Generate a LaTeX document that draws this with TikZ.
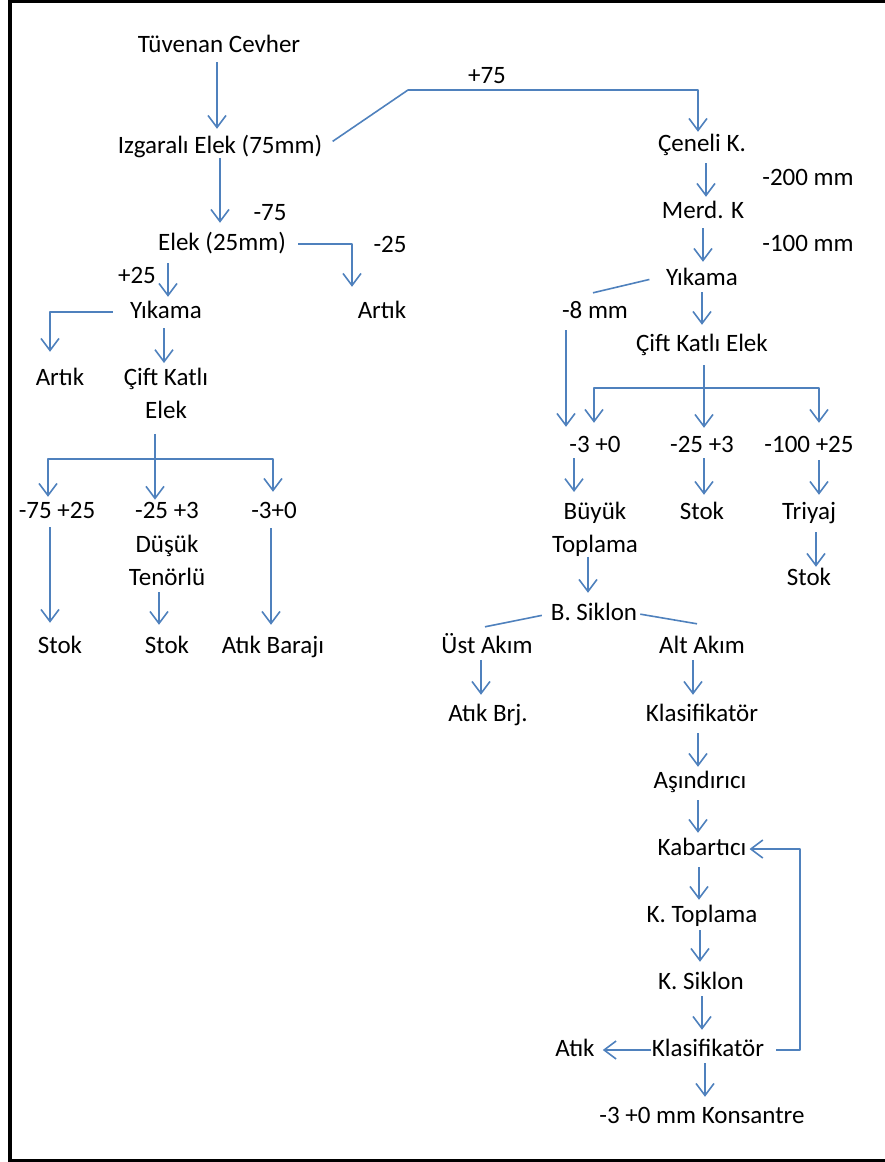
\documentclass[tikz,border=0pt]{standalone}
\usepackage{fontspec}
\setmainfont{Carlito}
\usetikzlibrary{arrows.meta}
\definecolor{flowblue}{RGB}{79,129,189}
\begin{document}
\begin{tikzpicture}[x=1pt,y=-1pt,
  every node/.style={font=\fontsize{25}{33.5}\selectfont, text=black},
  lbl/.style={inner xsep=2pt, inner ysep=0pt, text height=17pt, text depth=5pt, anchor=base},
  multi/.style={inner xsep=2pt, inner ysep=0pt, align=center, anchor=north},
  flow/.style={draw=flowblue, line width=1.6pt, line join=round},
  arr/.style={flow, -{Straight Barb[length=12pt,width=18pt]}},
  g/.style 2 args={shorten <=#1pt, shorten >=#2pt}]
\useasboundingbox (0,0) rectangle (885,1162);

% page frame
\draw[line width=4pt] (10,0) -- (10,1162);
\draw[line width=3pt] (8,1.5) -- (885,1.5);
\draw[line width=3pt] (8,1160.5) -- (885,1160.5);

% ---------- left branch ----------
\node[lbl] (n1) at (219,52) {Tüvenan Cevher};
\node[lbl] (n2) at (220,153) {Izgaralı Elek (75mm)};
\node[lbl] (l75) at (270,220) {-75};
\node[lbl] (n3) at (222,250) {Elek (25mm)};
\node[lbl] (l25m) at (390,252) {-25};
\node[lbl] (artR) at (382,318) {Artık};
\node[lbl] (l25p) at (137,283) {+25};
\node[lbl] (yikL) at (166,318) {Yıkama};
\node[lbl] (artL) at (60,385) {Artık};
\node[multi] (ciftL) at (166,367.5) {Çift Katlı\\Elek};
\node[lbl] (m75) at (57,518) {-75 +25};
\node[multi] (m25L) at (167,502.2) {-25 +3\\Düşük\\Tenörlü};
\node[lbl] (m3L) at (274,518) {-3+0};
\node[lbl] (stokL1) at (60,653) {Stok};
\node[lbl] (stokL2) at (167,653) {Stok};
\node[lbl] (atikbar) at (273,653) {Atık Barajı};

% ---------- right branch ----------
\node[lbl] (l75p) at (487,83) {+75};
\node[lbl] (cen) at (702,151) {Çeneli K.};
\node[lbl] (l200) at (808,185) {-200 mm};
\node[lbl] (merd) at (703,218) {Merd. K};
\node[lbl] (l100) at (808,251) {-100 mm};
\node[lbl] (yikR) at (702,285) {Yıkama};
\node[lbl] (m8) at (595,318) {-8 mm};
\node[lbl] (cifR) at (702,351) {Çift Katlı Elek};
\node[lbl] (m3R) at (595,452) {-3 +0};
\node[lbl] (m25R) at (702,452) {-25 +3};
\node[lbl] (m100) at (809,452) {-100 +25};
\node[multi] (buyuk) at (595,501.5) {Büyük\\Toplama};
\node[lbl] (stokR1) at (702,519) {Stok};
\node[lbl] (triyaj) at (809,519) {Triyaj};
\node[lbl] (stokR2) at (809,585) {Stok};
\node[lbl] (bsik) at (594,620) {B. Siklon};
\node[lbl] (ust) at (487,653) {Üst Akım};
\node[lbl] (alt) at (702,653) {Alt Akım};
\node[lbl] (atikbrj) at (488,721) {Atık Brj.};
\node[lbl] (klas1) at (702,721) {Klasifikatör};
\node[lbl] (asin) at (700,788) {Aşındırıcı};
\node[lbl] (kab) at (702,855) {Kabartıcı};
\node[lbl] (ktop) at (702,922) {K. Toplama};
\node[lbl] (ksik) at (701,989) {K. Siklon};
\node[lbl] (klas2) at (708,1056) {Klasifikatör};
\node[lbl] (atik) at (575,1056) {Atık};
\node[lbl] (kons) at (702,1123) {-3 +0 mm Konsantre};

% junction and bend points
\coordinate (k75) at (408,90);
\coordinate (jL) at (155,459);
\coordinate (jR) at (704,388);
\coordinate (fbx) at (800,0);

% ---------- left connectors ----------
\draw[arr, g={5}{7}] ([xshift=-2pt]n1.south) -- ([xshift=-2pt]n1.south |- n2.north);
\draw[arr, g={0}{10}] (n2.south) -- (n2.south |- n3.north);
\draw[arr, g={10}{2}] (n2.east) -- (k75) -| ([xshift=-4pt]cen.north);
\draw[arr, g={10}{14}] (n3.east) -| ([xshift=-30pt]artR.north);
\draw[arr, g={8}{4}] ([xshift=-54pt]n3.south) -- ([xshift=-54pt]n3.south |- yikL.north);
\draw[arr, g={15}{16}] (yikL.west) -| ([xshift=-10pt]artL.north);
\draw[arr, g={5}{4.5}] ([xshift=-2pt]yikL.south) -- ([xshift=-2pt]yikL.south |- ciftL.north);
\draw[arr, g={15}{2.5}] ([xshift=-11pt]ciftL.south) -- ([xshift=-11pt]ciftL.south |- m25L.north);
\draw[arr, g={0}{4}] (jL) -| ([xshift=-9pt]m75.north);
\draw[arr, g={0}{9}] (jL) -| ([xshift=-1pt]m3L.north);
\draw[arr, g={4}{13}] ([xshift=-7pt]m75.south) -- ([xshift=-7pt]m75.south |- stokL1.north);
\draw[arr, g={6}{11}] ([xshift=-8pt]m25L.south) -- ([xshift=-8pt]m25L.south |- stokL2.north);
\draw[arr, g={5}{11}] ([xshift=-3pt]m3L.south) -- ([xshift=-3pt]m3L.south |- atikbar.north);

% ---------- right connectors ----------
\draw[arr, g={7}{4}] ([xshift=4pt]cen.south) -- ([xshift=4pt]cen.south |- merd.north);
\draw[arr, g={5}{6}] (merd.south) -- (merd.south |- yikR.north);
\draw[arr, g={2}{9}] (yikR.south) -- (yikR.south |- cifR.north);
\draw[flow, shorten <=15pt] ([yshift=3pt]yikR.west) -- ([xshift=-2pt,yshift=8pt]m8.north);
\draw[arr, g={7}{8}] ([xshift=-29pt]m8.south) -- ([xshift=-29pt]m8.south |- m3R.north);
\draw[arr, g={9}{7}] ([xshift=2pt]cifR.south) -- ([xshift=2pt]cifR.south |- m25R.north);
\draw[arr, g={0}{12}] (jR) -| ([xshift=-1pt]m3R.north);
\draw[arr, g={0}{12}] (jR) -| ([xshift=10pt]m100.north);
\draw[arr, g={1}{9.5}] ([xshift=-21pt]m3R.south) -- ([xshift=-21pt]m3R.south |- buyuk.north);
\draw[arr, g={1}{7}] ([xshift=2pt]m25R.south) -- ([xshift=2pt]m25R.south |- stokR1.north);
\draw[arr, g={3}{7}] ([xshift=10pt]m100.south) -- ([xshift=10pt]m100.south |- triyaj.north);
\draw[arr, g={8}{1}] ([xshift=7pt]triyaj.south) -- ([xshift=7pt]triyaj.south |- stokR2.north);
\draw[arr, g={0}{10}] ([xshift=-7pt]buyuk.south) -- ([xshift=-7pt]buyuk.south |- bsik.north);
\draw[flow, shorten <=7pt] (bsik.west) -- ([xshift=-2pt,yshift=9pt]ust.north);
\draw[flow, shorten <=1pt] (bsik.east) -- ([xshift=-5pt,yshift=12pt]alt.north);
\draw[arr, g={2}{9}] ([xshift=-6pt]ust.south) -- ([xshift=-6pt]ust.south |- atikbrj.north);
\draw[arr, g={2}{9}] ([xshift=-9pt]alt.south) -- ([xshift=-9pt]alt.south |- klas1.north);
\draw[arr, g={7}{4}] ([xshift=-4pt]klas1.south) -- ([xshift=-4pt]klas1.south |- asin.north);
\draw[arr, g={7}{5}] ([xshift=-2pt]asin.south) -- ([xshift=-2pt]asin.south |- kab.north);
\draw[arr, g={7}{5}] ([xshift=-3pt]kab.south) -- ([xshift=-3pt]kab.south |- ktop.north);
\draw[arr, g={3}{10}] ([xshift=-2pt]ktop.south) -- ([xshift=-2pt]ktop.south |- ksik.north);
\draw[arr, g={2}{9}] ([xshift=1pt]ksik.south) -- ([xshift=1pt]ksik.south |- klas2.north);
\draw[arr, g={2}{9}] ([xshift=-3pt]klas2.south) -- ([xshift=-3pt]klas2.south |- kons.north);
\draw[arr, g={-1}{6}] (klas2.west) -- (atik.east);
\draw[arr, g={10}{1}] (klas2.east) -- (klas2.east -| fbx) |- (kab.east);
\end{tikzpicture}
\end{document}
